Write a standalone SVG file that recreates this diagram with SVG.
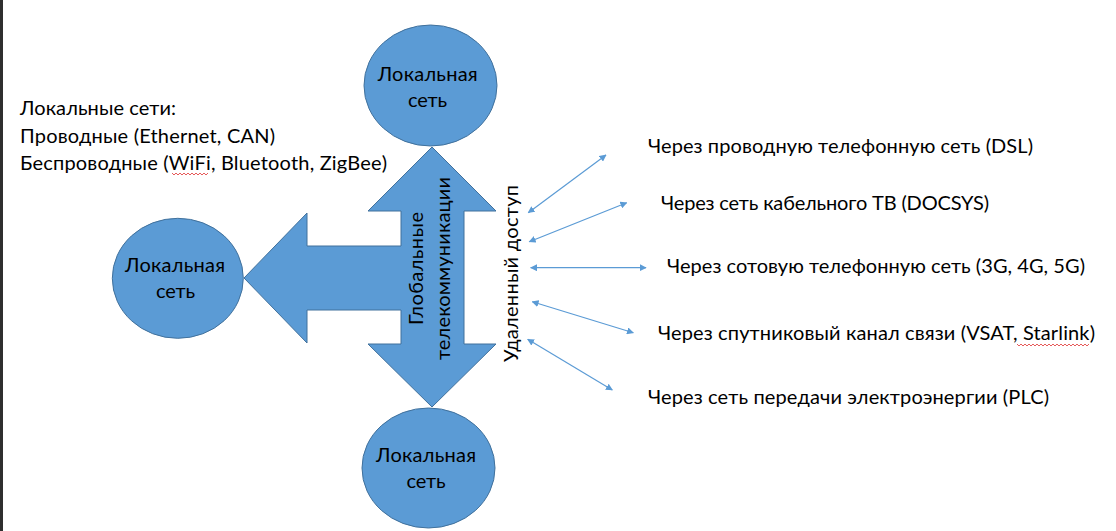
<svg xmlns="http://www.w3.org/2000/svg" width="1116" height="531" viewBox="0 0 1116 531">
  <defs>
    <style>
      .shape { fill: #5B9BD5; stroke: #41719C; stroke-width: 1; }
      .t { font-family: Lato, "Noto Sans", "Liberation Sans", sans-serif; font-size: 20px; fill: #000; }
      .c { text-anchor: middle; }
      .conn { stroke: #5B9BD5; stroke-width: 1.2; fill: none; marker-start: url(#ah); marker-end: url(#ah); }
      .sq { stroke: #E03030; stroke-width: 0.8; fill: none; }
    </style>
    <marker id="ah" viewBox="0 0 10 10" refX="9" refY="5" markerWidth="7" markerHeight="7" orient="auto-start-reverse" markerUnits="userSpaceOnUse">
      <path d="M0,0 L10,5 L0,10 Z" fill="#5B9BD5"/>
    </marker>
  </defs>
  <rect x="0" y="0" width="1116" height="531" fill="#FFFFFF"/>
  <rect x="0" y="0" width="3" height="531" fill="#2E2E2E"/>

  <g id="arrow-global">
    <polygon class="shape" points="432,147 496,211 464,211 464,344 496,344 432,407 368,344 401,344 401,310 307,310 307,343 244,278 307,213 307,246 401,246 401,211 368,211"/>
    <text class="t c" transform="translate(423,268.5) rotate(-90)" x="0" y="0" textLength="113">Глобальные</text>
    <text class="t c" transform="translate(450,268.5) rotate(-90)" x="0" y="0" textLength="183">телекоммуникации</text>
  </g>

  <g id="node-top">
    <ellipse class="shape" cx="430.5" cy="85.5" rx="66.5" ry="60.5"/>
    <text class="t c" x="427.7" y="81" textLength="100">Локальная</text>
    <text class="t c" x="427.5" y="106.7" textLength="39">сеть</text>
  </g>

  <g id="node-left">
    <ellipse class="shape" cx="177.8" cy="278.3" rx="65.5" ry="60"/>
    <text class="t c" x="175" y="272.3" textLength="100">Локальная</text>
    <text class="t c" x="175.5" y="298.3" textLength="39">сеть</text>
  </g>

  <g id="node-bottom">
    <ellipse class="shape" cx="428.5" cy="468" rx="66.5" ry="60"/>
    <text class="t c" x="426" y="461.7" textLength="100">Локальная</text>
    <text class="t c" x="426" y="488" textLength="39">сеть</text>
  </g>

  <g id="local-networks-label">
    <text class="t" x="20" y="115" textLength="156">Локальные сети:</text>
    <text class="t" x="20" y="142.7" textLength="255">Проводные (Ethernet, CAN)</text>
    <text class="t" x="20" y="170" textLength="367">Беспроводные (WiFi, Bluetooth, ZigBee)</text>
    <path class="sq" d="M172,173 l2,2 l2,-2 l2,2 l2,-2 l2,2 l2,-2 l2,2 l2,-2 l2,2 l2,-2 l2,2 l2,-2 l2,2 l2,-2 l2,2 l2,-2 l2,2 l2,-2"/>
  </g>

  <g id="remote-access">
    <text class="t c" transform="translate(518,273.5) rotate(-90)" x="0" y="0" textLength="177">Удаленный доступ</text>
  </g>

  <g id="connectors">
    <line class="conn" x1="528.3" y1="212.7" x2="606" y2="155"/>
    <line class="conn" x1="529.3" y1="241.7" x2="626.7" y2="202.7"/>
    <line class="conn" x1="530.7" y1="267.7" x2="646" y2="267.7"/>
    <line class="conn" x1="532.3" y1="301.7" x2="633.3" y2="332.7"/>
    <line class="conn" x1="527.7" y1="339.3" x2="612.3" y2="390"/>
  </g>

  <g id="remote-options">
    <text class="t" x="648" y="153" textLength="385">Через проводную телефонную сеть (DSL)</text>
    <text class="t" x="661" y="210" textLength="328">Через сеть кабельного ТВ (DOCSYS)</text>
    <text class="t" x="667" y="273" textLength="418">Через сотовую телефонную сеть (3G, 4G, 5G)</text>
    <text class="t" x="658" y="340" textLength="437">Через спутниковый канал связи (VSAT, Starlink)</text>
    <path class="sq" d="M1017,344 l2,2 l2,-2 l2,2 l2,-2 l2,2 l2,-2 l2,2 l2,-2 l2,2 l2,-2 l2,2 l2,-2 l2,2 l2,-2 l2,2 l2,-2 l2,2 l2,-2 l2,2 l2,-2 l2,2 l2,-2 l2,2 l2,-2 l2,2 l2,-2 l2,2 l2,-2 l2,2 l2,-2 l2,2 l2,-2 l2,2 l2,-2 l2,2 l2,-2"/>
    <text class="t" x="648" y="404" textLength="401">Через сеть передачи электроэнергии (PLC)</text>
  </g>
</svg>
